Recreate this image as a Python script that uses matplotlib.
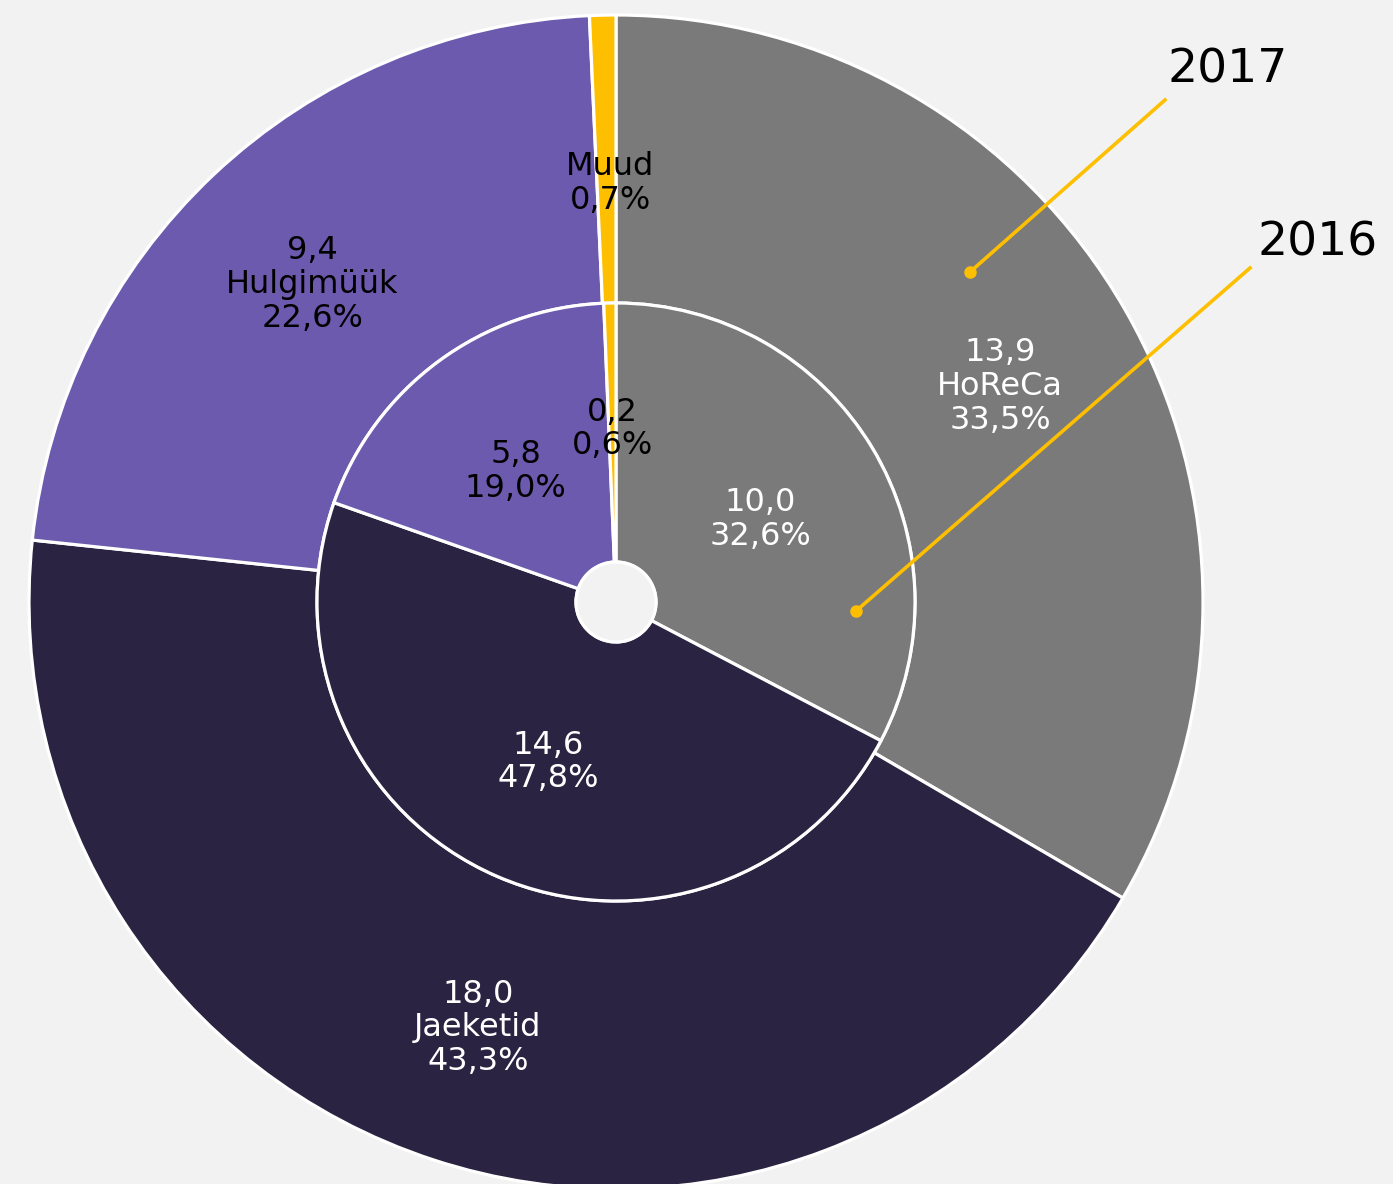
import numpy as np
import matplotlib.pyplot as plt

categories = ['HoReCa', 'Jaeketid', 'Hulgimüük', 'Muud']
values_2017 = [13.9, 18.0, 9.4, 0.3]
pct_2017 = ['33,5%', '43,3%', '22,6%', '0,7%']
values_2016 = [10.0, 14.6, 5.8, 0.2]
pct_2016 = ['32,6%', '47,8%', '19,0%', '0,6%']

colors = ['#7a7a7a', '#2a2341', '#6b5aad', '#fdbf00']
text_colors = ['white', 'white', 'black', 'black']
bg = '#f2f2f2'

W, H = 1393, 1184
cx, cy = 616, H - 602
r_out, r_mid, r_hole = 587, 299, 40

plt.rcParams['font.family'] = ['DejaVu Sans']
fig = plt.figure(figsize=(W / 100, H / 100), dpi=100, facecolor=bg)
ax = fig.add_axes([0, 0, 1, 1])
ax.axis('off')

edge = dict(edgecolor='white', linewidth=2.3)
outer, _ = ax.pie(values_2017, radius=r_out, center=(cx, cy), startangle=90,
                  counterclock=False, colors=colors,
                  wedgeprops=dict(width=r_out - r_mid, **edge))
inner, _ = ax.pie(values_2016, radius=r_mid, center=(cx, cy), startangle=90,
                  counterclock=False, colors=colors,
                  wedgeprops=dict(width=r_mid - r_hole, **edge))
ax.add_patch(plt.Circle((cx, cy), r_hole, facecolor=bg, edgecolor='white', linewidth=2.3, zorder=5))
ax.set_xlim(0, W)
ax.set_ylim(0, H)
ax.set_aspect('equal')


def mid(w):
    return np.deg2rad((w.theta1 + w.theta2) / 2)


fs = 23
dy = -5  # small downward nudge of the label blocks
for i, w in enumerate(outer):
    a = mid(w)
    r = 424 if categories[i] == 'Muud' else 443
    x, y = cx + r * np.cos(a), cy + r * np.sin(a) + dy
    if categories[i] == 'Muud':
        x += 4
        txt = f'{categories[i]}\n{pct_2017[i]}'
    else:
        txt = f'{values_2017[i]:.1f}'.replace('.', ',') + f'\n{categories[i]}\n{pct_2017[i]}'
    ax.text(x, y, txt, ha='center', va='center', fontsize=fs, color=text_colors[i],
            linespacing=1.12, zorder=6)

for i, w in enumerate(inner):
    a = mid(w)
    r = 178 if categories[i] == 'Muud' else 169
    x, y = cx + r * np.cos(a), cy + r * np.sin(a) + dy
    txt = f'{values_2016[i]:.1f}'.replace('.', ',') + f'\n{pct_2016[i]}'
    ax.text(x, y, txt, ha='center', va='center', fontsize=fs, color=text_colors[i],
            linespacing=1.12, zorder=6)

# year callouts
yellow = '#fdbf00'
for (px, py), (lx, ly), (tx, ty), year in [((970, 272), (1165, 100), (1228, 70), '2017'),
                                           ((856, 611), (1250, 268), (1318, 243), '2016')]:
    ax.plot([px, lx], [H - py, H - ly], color=yellow, lw=2.6, zorder=7)
    ax.plot(px, H - py, 'o', color=yellow, ms=8, zorder=7)
    ax.text(tx, H - ty, year, ha='center', va='center', fontsize=34, color='black', zorder=7)

fig.savefig('out.png', dpi=100, facecolor=bg)
